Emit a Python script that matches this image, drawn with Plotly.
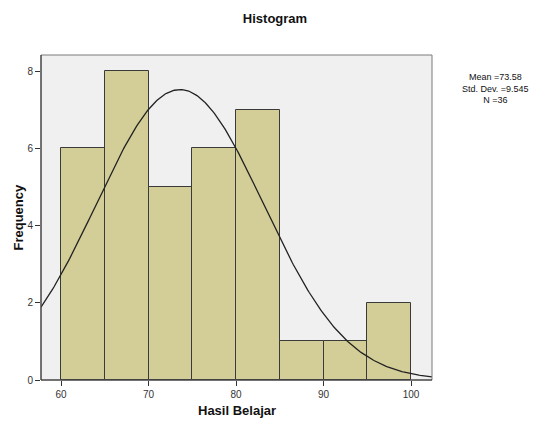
import numpy as np
import plotly.graph_objects as go

bin_starts = [60, 65, 70, 75, 80, 85, 90, 95]
bin_width = 5
frequencies = [6, 8, 5, 6, 7, 1, 1, 2]
mean = 73.58
std_dev = 9.545
n = 36
x_ticks = [60, 70, 80, 90, 100]
y_ticks = [0, 2, 4, 6, 8]

centers = [s + bin_width / 2 for s in bin_starts]
xs = np.linspace(57.7, 102.4, 300)
ys = n * bin_width * np.exp(-0.5 * ((xs - mean) / std_dev) ** 2) / (std_dev * np.sqrt(2 * np.pi))

# page body has an 8px margin: figure is 530x415 drawn at offset (8, 8)
W, H = 530, 415
fig = go.Figure()
fig.add_trace(go.Bar(x=centers, y=frequencies, width=[bin_width] * len(centers),
                     marker=dict(color="#D3CE98", line=dict(color="#3A3A3A", width=1)),
                     showlegend=False, hoverinfo="skip"))
fig.add_trace(go.Scatter(x=xs, y=ys, mode="lines", line=dict(color="#222222", width=1.3),
                         showlegend=False, hoverinfo="skip"))

font = "Liberation Sans, Arial, sans-serif"
fig.update_layout(
    width=W, height=H,
    margin=dict(l=33, r=106, t=47, b=43, autoexpand=False),
    paper_bgcolor="white", plot_bgcolor="#F0F0F0",
    bargap=0,
    font=dict(family=font, color="#222222"),
    title=dict(text="<b>Histogram</b>", x=267 / W, xref="container", xanchor="center",
               y=1 - 10 / H, yref="container", yanchor="middle",
               font=dict(size=13, color="#111111", family=font)),
    xaxis=dict(range=[57.7, 102.4], tickvals=x_ticks, ticks="outside", ticklen=5,
               tickcolor="#333333", showgrid=False, zeroline=False, automargin=False,
               showline=False,
               tickfont=dict(size=10, color="#333333")),
    yaxis=dict(range=[0, 8.42], tickvals=y_ticks, ticks="outside", ticklen=5,
               tickcolor="#333333", showgrid=False, zeroline=False, automargin=False,
               showline=False,
               tickfont=dict(size=10, color="#333333")),
)
fig.add_shape(type="rect", xref="paper", yref="paper", x0=0, y0=0, x1=1, y1=1,
              line=dict(color="#7A7A7A", width=1), layer="above")
fig.add_shape(type="line", xref="paper", yref="paper", x0=0, y0=0, x1=1, y1=0,
              line=dict(color="#2A2A2A", width=1), layer="above")
fig.add_shape(type="line", xref="paper", yref="paper", x0=0, y0=0, x1=0, y1=1,
              line=dict(color="#2A2A2A", width=1), layer="above")
fig.add_annotation(text="<b>Hasil Belajar</b>", xref="paper", yref="paper", x=0.5, y=0,
                   yshift=-30, xanchor="center", yanchor="middle", showarrow=False,
                   font=dict(size=13, color="#111111", family=font))
fig.add_annotation(text="<b>Frequency</b>", xref="paper", yref="paper", x=0, y=0.5,
                   xshift=-23, xanchor="center", yanchor="middle", textangle=-90, showarrow=False,
                   font=dict(size=13, color="#111111", family=font))
stats_text = "Mean =" + f"{mean:.2f}" + "<br>Std. Dev. =" + f"{std_dev:.3f}" + "<br>N =" + str(n)
fig.add_annotation(text=stats_text,
                   xref="paper", yref="paper", x=(495 - 41) / (432 - 41), y=1 - (88 - 55) / (380 - 55),
                   xanchor="center", yanchor="middle", showarrow=False, align="center",
                   font=dict(size=9, color="#111111", family=font))
fig.write_html("out.html")
